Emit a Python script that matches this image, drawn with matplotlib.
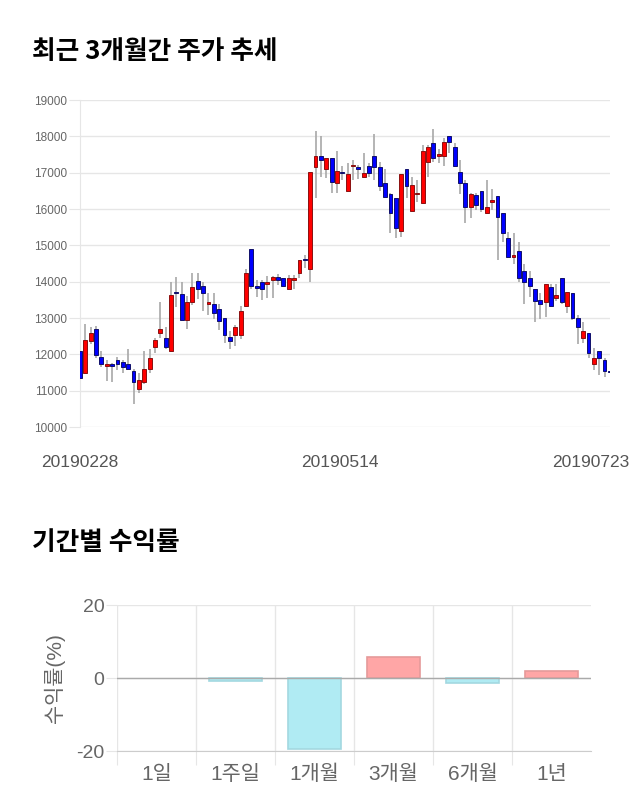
import matplotlib
matplotlib.use("Agg")
import matplotlib.pyplot as plt
import numpy as np

plt.rcParams['font.family'] = ['Liberation Sans', 'Noto Sans CJK KR', 'DejaVu Sans']
plt.rcParams['axes.unicode_minus'] = False

# daily candles, 20190228 .. 20190723
opens = [12100, 11480, 12380, 12690, 11940, 11690, 11730, 11850, 11780, 11730,
         11550, 11040, 11230, 11590, 12190, 12580, 12440, 12100, 13710, 13650,
         12950, 13430, 14030, 13890, 13390, 13390, 13250, 12990, 12490, 12540,
         12540, 13340, 14890, 13870, 13980, 13940, 14050, 14140, 14090, 13790,
         14050, 14230, 14600, 14340, 17150, 17460, 17090, 17400, 16710, 17010,
         16500, 17190, 17150, 16890, 17190, 17460, 17150, 16710, 16410, 16300,
         15400, 17090, 15950, 16410, 16160, 17300, 17810, 17460, 17460, 18010,
         17700, 17010, 16710, 16050, 16390, 16500, 15900, 16200, 16360, 15900,
         15200, 14690, 14850, 14300, 14090, 13790, 13490, 13430, 13850, 13540,
         14090, 13340, 13680, 12990, 12440, 12580, 11730, 12100, 11850, 11530]
highs = [12170, 12840, 12750, 12780, 12100, 11850, 11760, 11920, 11850, 12140,
         11590, 11480, 12100, 12140, 12440, 13430, 12750, 13980, 14140, 13980,
         13620, 14230, 14230, 14000, 13680, 13680, 13380, 12990, 12630, 12810,
         13330, 14340, 14890, 14050, 14050, 14160, 14160, 14210, 14090, 14190,
         14190, 14600, 14740, 17010, 18150, 18010, 17400, 17400, 17600, 17190,
         17260, 17350, 17210, 17550, 17260, 18060, 17300, 17090, 16450, 16300,
         16960, 17090, 16890, 16800, 17760, 17760, 18190, 17640, 17950, 18010,
         17810, 17350, 16800, 16430, 16430, 16500, 16800, 16550, 16360, 15900,
         15380, 15330, 15090, 14490, 14300, 13790, 13700, 13940, 13940, 13940,
         14090, 13730, 13680, 13090, 12880, 12580, 12170, 12100, 11890, 11530]
lows = [11340, 11480, 12290, 11890, 11650, 11280, 11230, 11570, 11500, 11570,
        10640, 10930, 11180, 11480, 12030, 12440, 12140, 12100, 13290, 12950,
        12690, 13360, 13530, 13180, 13090, 12980, 12670, 12320, 12140, 12230,
        12430, 13300, 13790, 13590, 13500, 13540, 13540, 13910, 13850, 13790,
        13790, 14090, 14390, 13980, 16300, 16890, 16850, 16450, 16450, 16800,
        16500, 16800, 16820, 16890, 16890, 16800, 16510, 16340, 15350, 15200,
        15240, 16300, 15950, 16200, 16130, 16890, 17300, 17260, 17190, 17530,
        17150, 16410, 15610, 15750, 15960, 15930, 15860, 15960, 14600, 15100,
        14690, 14490, 13980, 13390, 13590, 12880, 12980, 13040, 13340, 13480,
        13390, 13130, 12950, 12290, 12310, 11890, 11570, 11440, 11390, 11480]
closes = [11340, 12400, 12580, 11990, 11740, 11730, 11690, 11730, 11650, 11590,
          11230, 11300, 11590, 11890, 12400, 12700, 12190, 13640, 13680, 12950,
          13430, 13850, 13800, 13680, 13430, 13130, 12930, 12540, 12380, 12750,
          13200, 14230, 13890, 13840, 13790, 13980, 14140, 14050, 13890, 14090,
          14090, 14600, 14590, 17010, 17460, 17350, 17400, 16750, 17050, 16980,
          16960, 17210, 17090, 17000, 17000, 17150, 16640, 16340, 15900, 15490,
          16960, 16640, 16660, 16450, 17600, 17700, 17400, 17510, 17850, 17850,
          17190, 16710, 16050, 16410, 16110, 15990, 16050, 16250, 15790, 15330,
          14690, 14740, 14090, 13980, 13890, 13480, 13390, 13940, 13340, 13640,
          13430, 13730, 12990, 12750, 12650, 12030, 11890, 11890, 11530, 11510]
date_ticks = [0, 48.5, 95.5]
date_labels = ["20190228", "20190514", "20190723"]

# period returns (%)
periods = ["1일", "1주일", "1개월", "3개월", "6개월", "1년"]
returns = [0.0, -0.7, -19.5, 5.9, -1.4, 1.8]

fig = plt.figure(figsize=(6.4, 8.1), dpi=100)

fig.text(0.05, 0.936, "최근 3개월간 주가 추세", fontsize=18.5, fontweight="bold",
         va="center", ha="left", family=["Noto Sans CJK KR"])
fig.text(0.05, 0.330, "기간별 수익률", fontsize=18.5, fontweight="bold",
         va="center", ha="left", family=["Noto Sans CJK KR"])

# candlestick chart
ax = fig.add_axes([0.125, 0.4728, 0.828, 0.4037])
x = np.arange(len(opens))
o = np.array(opens)
c = np.array(closes)
up = c >= o
body_col = np.where(up, "#ff0000", "#0000ff")
edge_col = np.where(up, "#8a1010", "#10106a")
ax.vlines(x, lows, highs, color="#a8a8a8", lw=1.2, zorder=2)
ax.bar(x, np.maximum(np.abs(c - o), 25), bottom=np.minimum(o, c), width=0.72,
       color=body_col, edgecolor=edge_col, linewidth=0.7, zorder=3)
ax.set_xlim(0, len(opens) - 1)
ax.set_ylim(10000, 19000)
ax.set_yticks(range(10000, 19001, 1000))
ax.set_xticks(date_ticks)
ax.set_xticklabels(date_labels)
ax.grid(axis="y", color="#e6e6e6", lw=1)
ax.set_axisbelow(True)
for s in ["top", "right", "bottom"]:
    ax.spines[s].set_visible(False)
ax.spines["left"].set_color("#e6e6e6")
ax.tick_params(axis="y", length=8, color="#e6e6e6", labelsize=8.5, labelcolor="#666666", pad=1)
ax.tick_params(axis="x", length=0, labelsize=12.5, labelcolor="#555555", pad=20)

# returns bar chart
bx = fig.add_axes([0.1828, 0.0728, 0.7406, 0.1802])
bx_x = np.arange(len(periods))
ret = np.array(returns)
bar_col = np.where(ret >= 0, "#ffa6a6", "#b0ebf3")
bar_edge = np.where(ret > 0, "#e59a9a", np.where(ret < 0, "#a3d8e0", "none"))
bx.bar(bx_x, ret, width=0.68, color=bar_col, edgecolor=bar_edge, linewidth=1.2, zorder=3)
bx.axhline(0, color="#aaaaaa", lw=1, zorder=4)
bx.set_xlim(-0.5, len(periods) - 0.5)
bx.set_ylim(-20, 20)
bx.set_yticks([-20, 0, 20])
bx.set_xticks(bx_x - 0.5)
bx.set_xticklabels([])
bx.set_xticks(bx_x, minor=True)
bx.set_xticklabels(periods, minor=True)
bx.grid(axis="x", which="major", color="#e6e6e6", lw=1)
bx.grid(axis="y", color="#e6e6e6", lw=1)
bx.set_axisbelow(True)
for s in ["top", "right", "left"]:
    bx.spines[s].set_visible(False)
bx.spines["bottom"].set_color("#cccccc")
bx.tick_params(axis="x", which="major", length=10, color="#e6e6e6")
bx.tick_params(axis="x", which="minor", length=0, labelsize=15, labelcolor="#666666", pad=10)
bx.tick_params(axis="y", length=8, color="#e6e6e6", labelsize=14, labelcolor="#666666", pad=1)
bx.set_ylabel("수익률(%)", fontsize=15, color="#666666", labelpad=8)

fig.savefig("out.png", dpi=100)
